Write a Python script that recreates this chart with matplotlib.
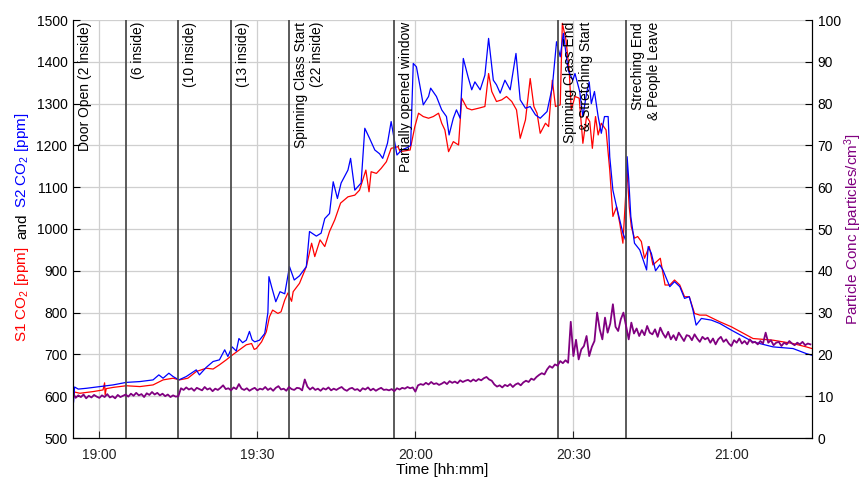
import numpy as np
import pandas as pd
import matplotlib
matplotlib.use('Agg')
import matplotlib.pyplot as plt
import matplotlib.dates as mdates
from matplotlib.transforms import offset_copy

plt.rcParams['font.family'] = ['Liberation Sans', 'DejaVu Sans']
plt.rcParams['mathtext.fontset'] = 'custom'
plt.rcParams['mathtext.rm'] = 'Liberation Sans'

# time in minutes relative to 19:00
s1_min = [-5.0, -4.9, -4.7, -3.7, -1.2, 0.7, 1.0, 1.1, 1.3, 2.6, 5.1, 7.7, 10.2, 12.1, 14.0, 15.2, 16.8,
          18.4, 20.3, 21.6, 22.8, 24.1, 25.3, 26.6, 27.9, 28.9, 29.4, 29.8, 30.8, 31.7, 32.3, 32.9, 33.9,
          34.5, 35.2, 35.8, 36.5, 36.8, 38.0, 39.3, 40.3, 40.9, 41.9, 42.8, 43.7, 44.7, 45.8, 47.2, 48.5,
          49.4, 50.6, 51.2, 51.6, 52.6, 53.5, 54.5, 55.4, 56.7, 57.1, 59.0, 59.9, 60.6, 61.5, 62.5, 63.4,
          64.4, 65.0, 65.6, 66.3, 67.2, 68.2, 68.8, 69.8, 70.7, 72.0, 73.2, 73.9, 74.5, 75.4, 76.4, 77.3,
          78.3, 79.2, 79.9, 80.9, 81.8, 82.5, 83.1, 83.7, 84.7, 85.3, 86.0, 86.6, 87.5, 87.9, 88.6, 89.2,
          89.6, 90.3, 91.1, 91.8, 92.5, 93.1, 93.6, 94.2, 94.7, 95.3, 96.2, 96.9, 97.5, 98.2, 98.8, 99.4,
          100.2, 100.6, 101.0, 101.6, 102.2, 102.9, 103.5, 104.4, 105.1, 106.5, 107.4, 108.3, 109.2,
          110.2, 111.1, 112.0, 113.0, 114.0, 115.2, 116.5, 117.8, 120.0, 124.1, 127.9, 131.7, 134.2, 135.3]
s1_ppm = [643, 600, 610, 607, 611, 615, 632, 603, 618, 621, 625, 623, 627, 639, 643, 639, 643,
          659, 667, 665, 675, 687, 699, 711, 723, 726, 712, 714, 730, 754, 790, 806, 798,
          802, 830, 847, 827, 850, 870, 910, 966, 934, 974, 958, 994, 1022, 1062, 1077, 1081,
          1093, 1141, 1089, 1137, 1133, 1145, 1161, 1193, 1197, 1185, 1189, 1245, 1277, 1269, 1265, 1269,
          1277, 1253, 1237, 1185, 1209, 1201, 1313, 1289, 1285, 1289, 1293, 1372, 1329, 1305, 1309, 1317,
          1305, 1285, 1217, 1261, 1360, 1293, 1277, 1229, 1253, 1245, 1356, 1293, 1297, 1492, 1452, 1380,
          1285, 1317, 1313, 1205, 1269, 1257, 1193, 1269, 1225, 1253, 1237, 1141, 1030, 1053, 1014, 966,
          1141, 1053, 1005, 978, 982, 970, 930, 958, 914, 930, 866, 866, 878,
          866, 838, 838, 798, 794, 794, 786, 778, 766, 738, 734, 726, 718, 714]

s2_min = [-5.0, -4.9, -4.7, -4.0, -2.4, 0.1, 2.6, 5.1, 7.7, 10.2, 11.3, 12.1, 13.2, 14.0, 15.1, 16.5,
          18.4, 19.0, 20.3, 21.6, 22.8, 23.8, 24.4, 25.2, 26.0, 26.5, 27.2, 27.9, 28.5, 29.0, 29.5, 30.4,
          31.4, 32.0, 32.2, 32.7, 33.5, 34.3, 35.2, 36.1, 37.0, 38.0, 39.3, 39.9, 41.2, 42.1, 42.8, 43.7,
          44.4, 45.2, 45.9, 47.2, 47.7, 48.5, 49.7, 50.4, 51.3, 52.3, 53.2, 53.8, 54.7, 55.4, 56.5, 57.4,
          58.5, 59.1, 59.6, 60.2, 60.9, 61.5, 62.5, 62.9, 64.0, 65.0, 65.9, 66.4, 67.2, 67.8, 68.5, 69.1,
          70.0, 70.7, 71.3, 72.3, 73.2, 73.9, 74.8, 75.4, 76.1, 77.0, 78.0, 79.1, 79.9, 80.9, 81.8, 82.8,
          83.7, 85.0, 86.0, 86.8, 87.5, 88.1, 89.0, 89.9, 90.3, 91.2, 91.8, 92.5, 93.0, 93.4, 94.0, 94.7,
          95.3, 95.9, 96.6, 96.9, 97.5, 98.2, 98.8, 99.4, 99.9, 100.2, 100.5, 100.9, 101.6, 102.6, 103.9,
          104.2, 104.8, 105.6, 106.4, 107.0, 108.3, 109.2, 110.2, 111.1, 112.0, 112.7, 113.3, 114.3, 116.2,
          117.8, 120.0, 124.1, 127.9, 131.7, 134.2, 135.3]
s2_ppm = [618, 585, 622, 617, 619, 623, 627, 633, 635, 639, 651, 643, 655, 647, 639, 647,
          663, 651, 669, 683, 687, 711, 695, 718, 708, 738, 728, 734, 755, 735, 730, 734,
          750, 800, 886, 862, 826, 850, 845, 910, 878, 888, 910, 994, 983, 990, 1025, 1037,
          1113, 1073, 1110, 1141, 1169, 1093, 1110, 1241, 1217, 1189, 1180, 1169, 1205, 1257, 1177, 1189,
          1195, 1200, 1396, 1388, 1340, 1297, 1317, 1337, 1317, 1285, 1269, 1225, 1265, 1285, 1265, 1408,
          1364, 1333, 1352, 1333, 1368, 1456, 1356, 1345, 1325, 1356, 1333, 1420, 1309, 1289, 1293, 1273,
          1265, 1281, 1340, 1448, 1412, 1468, 1380, 1356, 1372, 1329, 1269, 1325, 1352, 1300, 1329, 1269,
          1229, 1269, 1269, 1173, 1093, 1053, 1022, 990, 974, 1173, 1120, 1030, 966, 950, 902,
          958, 942, 900, 914, 902, 862, 874, 862, 834, 838, 806, 770, 786, 782,
          774, 758, 730, 718, 714, 702, 698]

# particle concentration, one reading every 30 s from 18:55
pm_conc = [10.8, 9.6, 10.2, 9.8, 10.4, 9.5, 10.1, 9.7, 10.3, 9.9, 9.6, 10.2, 9.8, 10.5, 9.7, 10.0, 9.5, 10.3, 9.8, 10.1,
           10.4, 9.9, 10.6, 10.1, 10.8, 10.2, 10.5, 9.8, 10.7, 10.3, 11.0, 10.4, 10.8, 10.2, 10.6, 10.0, 10.4, 9.8, 10.2, 9.9,
           10.0, 11.9, 11.5, 12.1, 11.6, 11.9, 11.3, 12.0, 11.7, 11.4, 12.2, 11.6, 11.9, 11.2, 11.8, 11.5, 12.0, 12.6, 11.7, 11.9,
           11.4, 12.1, 11.7, 12.9, 11.8, 11.5, 11.9, 11.3, 11.7, 12.0, 11.4, 11.8, 11.6, 12.2, 11.5, 11.9, 11.3, 12.0, 12.4, 11.6,
           11.8, 11.3, 12.2, 11.7, 11.5, 12.0, 11.9, 11.4, 14.0, 12.3, 11.6, 12.1, 11.5, 11.8, 11.3, 11.9, 11.6, 12.1, 11.4, 11.8,
           11.5, 11.9, 12.2, 11.6, 11.3, 11.8, 12.0, 11.5, 11.7, 11.2, 11.9, 11.6, 12.1, 11.4, 11.8, 11.3, 11.7, 12.0, 11.5, 11.6,
           11.4, 11.7, 11.2, 11.9, 11.6, 12.0, 11.8, 12.2, 11.9, 12.1, 11.1, 12.6, 12.9, 12.7, 13.2, 12.8, 13.4, 12.9, 13.1, 12.7,
           13.0, 13.4, 12.9, 13.6, 13.2, 13.5, 13.1, 13.8, 13.4, 13.7, 13.9, 13.5, 14.0, 13.6, 14.1, 13.8, 14.3, 14.6, 14.0, 13.7,
           12.8, 12.3, 12.6, 12.1, 12.7, 12.4, 12.9, 12.2, 12.8, 13.1, 12.6, 13.3, 13.7, 13.4, 14.2, 13.9, 14.6, 15.1, 15.5, 15.2,
           16.4, 17.2, 16.8, 17.6, 17.3, 18.4, 17.9, 18.6, 18.0, 27.8, 19.6, 23.5, 18.8, 21.2, 22.0, 24.4, 19.6, 21.8, 23.2, 30.0,
           26.0, 23.6, 28.8, 25.2, 27.4, 32.0, 26.6, 25.6, 28.4, 30.0, 26.8, 23.6, 27.6, 25.0, 26.2, 24.4, 25.8, 24.6, 26.8, 25.2,
           24.8, 26.0, 24.2, 26.4, 25.0, 24.0, 25.4, 23.6, 24.6, 23.4, 25.2, 24.2, 23.2, 24.6, 24.4, 23.4, 24.8, 23.8, 23.0, 24.2,
           23.6, 24.0, 22.8, 23.8, 22.4, 23.6, 24.2, 23.0, 23.6, 22.6, 22.0, 23.4, 22.8, 23.8, 22.6, 23.2, 22.4, 23.6, 22.8, 23.0,
           22.4, 23.2, 22.6, 25.2, 22.8, 23.4, 22.2, 22.8, 23.0, 22.0, 22.8, 22.4, 23.2, 22.6, 22.2, 22.8, 22.4, 23.0, 22.2, 22.6,
           22.4]
pm_min = -5.0 + 0.5 * np.arange(len(pm_conc))

event_min = [-5, 5, 15, 25, 36, 56, 87, 100]
event_text = ['Door Open (2 inside)', '(6 inside)', '(10 inside)', '(13 inside)',
              'Spinning Class Start\n(22 inside)', 'Partially opened window',
              'Spinning Class End\n& Stretching Start', 'Streching End\n& People Leave']

base = pd.Timestamp('2019-01-01 19:00')
def to_time(m):
    return base + pd.to_timedelta(np.asarray(m, dtype=float), unit='m')

fig = plt.figure(figsize=(8.64, 4.78), dpi=100)
ax = fig.add_axes([73/864, 40/478, 739/864, 418/478])
ax2 = ax.twinx()

ax.plot(to_time(s1_min), s1_ppm, color='#ff0000', lw=0.9, zorder=3)
ax.plot(to_time(s2_min), s2_ppm, color='#0000ff', lw=0.9, zorder=3)
ax2.plot(to_time(pm_min), pm_conc, color='#800080', lw=1.3)

ax.set_xlim(to_time([-5.0, 135.3]))
ax.set_ylim(500, 1500)
ax.set_yticks(np.arange(500, 1501, 100))
ax2.set_ylim(0, 100)
ax2.set_yticks(np.arange(0, 101, 10))
ax.xaxis.set_major_locator(mdates.MinuteLocator(byminute=[0, 30]))
ax.xaxis.set_major_formatter(mdates.DateFormatter('%H:%M'))

ax.grid(True, color='#cfcfcf', lw=0.9)
ax.set_axisbelow(True)
for a in (ax, ax2):
    a.spines['top'].set_visible(False)
ax.tick_params(direction='in', length=5, labelsize=10, pad=4)
ax.tick_params(axis='x', pad=7, colors='#222222')
ax2.tick_params(direction='in', length=5, labelsize=10, pad=4)

trans = offset_copy(ax.transData, fig=fig, x=5, y=-2, units='dots')
for m, txt in zip(event_min, event_text):
    t = mdates.date2num(to_time([m])[0].to_pydatetime())
    if m > -5:
        ax.axvline(t, color='#4d4d4d', lw=1.3, zorder=4)
    ax.text(t, 1500, txt, rotation=90, ha='left', va='top', fontsize=10,
            multialignment='right', transform=trans, zorder=5)

ax.set_xlabel('Time [hh:mm]', fontsize=11, labelpad=1)
fig.text(22/864, 1 - 294/478, r'S1 $\mathregular{CO_2}$ [ppm]', color='#ff0000', rotation=90,
         ha='center', va='center', fontsize=11)
fig.text(22/864, 1 - 226/478, 'and', color='black', rotation=90, ha='center', va='center', fontsize=11)
fig.text(22/864, 1 - 160/478, r'S2 $\mathregular{CO_2}$ [ppm]', color='#0000ff', rotation=90,
         ha='center', va='center', fontsize=11)
fig.text(853/864, 1 - 229/478, r'Particle Conc [particles/$\mathregular{cm^3}$]', color='#800080',
         rotation=90, ha='center', va='center', fontsize=11)

fig.savefig('out.png', dpi=100)
